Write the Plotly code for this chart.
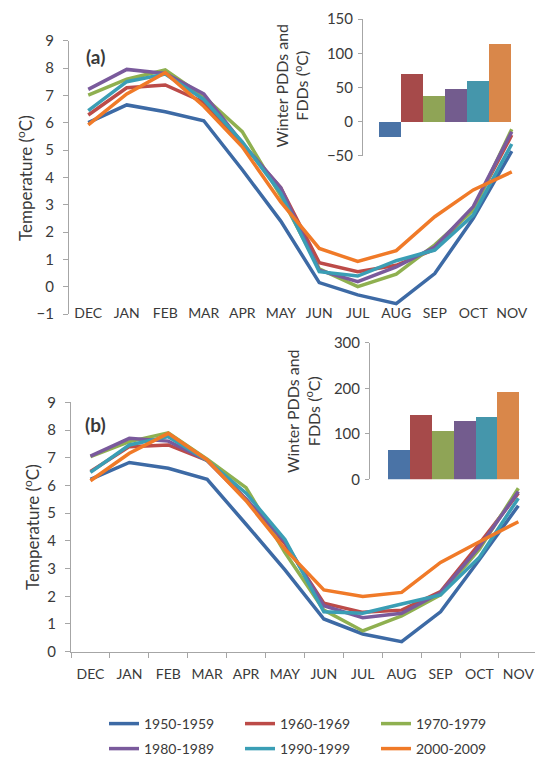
import plotly.graph_objects as go

months = ["DEC", "JAN", "FEB", "MAR", "APR", "MAY", "JUN", "JUL", "AUG", "SEP", "OCT", "NOV"]
decades = ["1950-1959", "1960-1969", "1970-1979", "1980-1989", "1990-1999", "2000-2009"]

# Panel (a) monthly temperatures (ºC)
a_1950 = [6.00, 6.65, 6.40, 6.07, 4.28, 2.40, 0.15, -0.30, -0.62, 0.48, 2.50, 4.96]
a_1960 = [6.28, 7.28, 7.38, 6.75, 5.22, 3.62, 0.88, 0.55, 0.78, 1.37, 2.87, 5.55]
a_1970 = [7.01, 7.59, 7.93, 6.95, 5.67, 3.32, 0.65, 0.00, 0.46, 1.53, 2.80, 5.76]
a_1980 = [7.22, 7.95, 7.80, 7.05, 5.25, 3.62, 0.60, 0.18, 0.72, 1.45, 2.93, 5.67]
a_1990 = [6.44, 7.50, 7.78, 6.85, 5.30, 3.42, 0.55, 0.39, 0.95, 1.34, 2.62, 5.22]
a_2000 = [5.92, 7.05, 7.83, 6.60, 5.12, 3.10, 1.40, 0.92, 1.32, 2.56, 3.54, 4.20]

# Panel (b) monthly temperatures (ºC)
b_1950 = [6.22, 6.83, 6.62, 6.22, 4.60, 2.95, 1.18, 0.64, 0.36, 1.44, 3.33, 5.27]
b_1960 = [6.50, 7.40, 7.46, 6.90, 5.50, 3.90, 1.75, 1.42, 1.50, 2.17, 3.90, 5.72]
b_1970 = [7.04, 7.58, 7.90, 6.95, 5.92, 3.58, 1.50, 0.75, 1.29, 2.05, 3.70, 5.90]
b_1980 = [7.06, 7.70, 7.60, 6.90, 5.50, 3.97, 1.66, 1.23, 1.39, 2.13, 3.79, 5.78]
b_1990 = [6.47, 7.46, 7.76, 6.90, 5.72, 4.05, 1.44, 1.39, 1.72, 2.05, 3.41, 5.54]
b_2000 = [6.17, 7.16, 7.88, 6.92, 5.45, 3.70, 2.23, 1.99, 2.14, 3.22, 3.97, 4.69]

# Insets: winter PDDs and FDDs (ºC)
pdd_a = [-22, 69, 38, 47, 60, 114]
pdd_b = [64, 141, 106, 128, 138, 192]

temp_ticks = list(range(-1, 10))
pdd_ticks_a = [-50, 0, 50, 100, 150]
pdd_ticks_b = [0, 100, 200, 300]

line_colors = ["#3D6AA5", "#BC4B48", "#8FB050", "#7A5A9C", "#3A9EB5", "#F07A28"]
bar_colors = ["#4A73A6", "#A64A4A", "#8FA456", "#735C8E", "#4596AB", "#D9874A"]

W, H = 535, 765
FONT = "Lato"
TXT = "#3a3a3a"
AX = "#a6a6a6"


def fx(p):
    return p / W


def fy(p):
    return 1 - p / H


series_a = [a_1950, a_1960, a_1970, a_1980, a_1990, a_2000]
series_b = [b_1950, b_1960, b_1970, b_1980, b_1990, b_2000]

fig = go.Figure()

for i, (name, ys) in enumerate(zip(decades, series_a)):
    fig.add_trace(go.Scatter(
        x=months, y=ys, mode="lines", name=name,
        line=dict(color=line_colors[i], width=3.5),
        xaxis="x", yaxis="y",
        showlegend=True, legend="legend" if i < 3 else "legend2",
    ))

for i, (name, ys) in enumerate(zip(decades, series_b)):
    fig.add_trace(go.Scatter(
        x=months, y=ys, mode="lines", name=name,
        line=dict(color=line_colors[i], width=3.5),
        xaxis="x3", yaxis="y3", showlegend=False,
    ))

fig.add_trace(go.Bar(x=decades, y=pdd_a, marker=dict(color=bar_colors, line=dict(width=0)),
                     xaxis="x2", yaxis="y2", showlegend=False))
fig.add_trace(go.Bar(x=decades, y=pdd_b, marker=dict(color=bar_colors, line=dict(width=0)),
                     xaxis="x4", yaxis="y4", showlegend=False))

tickfont = dict(family=FONT, size=15, color=TXT)
catfont = dict(family=FONT, size=14, color=TXT)
common = dict(automargin=False, showgrid=False, zeroline=False)

fig.update_layout(
    template="none",
    width=W, height=H,
    margin=dict(l=0, r=0, t=0, b=0, pad=0),
    paper_bgcolor="white", plot_bgcolor="rgba(0,0,0,0)",
    bargap=0,
    font=dict(family=FONT, color=TXT),
    # panel (a)
    xaxis=dict(domain=[fx(69), fx(531)], range=[-0.5, 11.5], type="category",
               anchor="free", position=fy(303), showline=False, ticks="",
               tickangle=0, tickfont=catfont, **common),
    xaxis5=dict(domain=[fx(69), fx(531)], range=[-0.5, 11.5], type="category",
                categoryarray=months, overlaying="x", anchor="free", position=fy(286.7),
                showline=True, linecolor=AX, linewidth=1, ticks="outside", tickson="boundaries",
                ticklen=5, tickcolor=AX, showticklabels=False, **common),
    yaxis=dict(domain=[fy(314), fy(40.7)], range=[-1, 9], anchor="x",
               tickvals=temp_ticks, showline=True, linecolor=AX, ticks="outside",
               ticklen=5, tickcolor=AX, tickfont=tickfont, ticklabelstandoff=6, **common),
    # inset (a)
    xaxis2=dict(domain=[fx(363), fx(527)], range=[-1.245, 6.245], visible=False, anchor="y2", **common),
    yaxis2=dict(domain=[fy(155.9), fy(19.1)], range=[-50, 150], anchor="x2",
                tickvals=pdd_ticks_a, showline=True, linecolor=AX, ticks="outside",
                ticklen=4, tickcolor=AX, tickfont=tickfont, ticklabelstandoff=2, **common),
    # panel (b)
    xaxis3=dict(domain=[fx(71), 1.0], range=[-0.5, -0.5 + (535 - 71) / 38.9], type="category",
                anchor="y3", showline=True, linecolor=AX, ticks="outside", tickson="boundaries",
                ticklen=5, tickcolor=AX, tickangle=0, tickfont=catfont,
                ticklabelstandoff=9, **common),
    yaxis3=dict(domain=[fy(651.7), fy(402.3)], range=[0, 9], anchor="x3",
                tickvals=temp_ticks[1:], showline=True, linecolor=AX, ticks="outside",
                ticklen=5, tickcolor=AX, tickfont=tickfont, ticklabelstandoff=6, **common),
    # inset (b)
    xaxis4=dict(domain=[fx(370), 1.0], range=[-1.34, 6.23], visible=False, anchor="y4", **common),
    yaxis4=dict(domain=[fy(479.3), fy(342.8)], range=[0, 300], anchor="x4",
                tickvals=pdd_ticks_b, showline=True, linecolor=AX, ticks="outside",
                ticklen=4, tickcolor=AX, tickfont=tickfont, ticklabelstandoff=2, **common),
    legend=dict(orientation="h", x=fx(104), xanchor="left", y=fy(724), yanchor="middle",
                entrywidth=91, entrywidthmode="pixels", font=dict(family=FONT, size=14, color=TXT),
                bgcolor="rgba(0,0,0,0)", borderwidth=0),
    legend2=dict(orientation="h", x=fx(104), xanchor="left", y=0, yanchor="bottom",
                 entrywidth=91, entrywidthmode="pixels", font=dict(family=FONT, size=14, color=TXT),
                 bgcolor="rgba(0,0,0,0)", borderwidth=0),
)

ann = [
    dict(text="<b>(a)</b>", x=fx(95), y=fy(57), font=dict(size=19)),
    dict(text="<b>(b)</b>", x=fx(96), y=fy(424), font=dict(size=19)),
    dict(text="Temperature (<sup>o</sup>C)", x=fx(24), y=fy(178), textangle=-90, font=dict(size=17)),
    dict(text="Temperature (<sup>o</sup>C)", x=fx(31), y=fy(527), textangle=-90, font=dict(size=17)),
    dict(text="Winter PDDs and<br>FDDs (<sup>o</sup>C)", x=fx(291.5), y=fy(86), textangle=-90, font=dict(size=16)),
    dict(text="Winter PDDs and<br>FDDs (<sup>o</sup>C)", x=fx(303), y=fy(411), textangle=-90, font=dict(size=16)),
]
for a in ann:
    a.update(xref="paper", yref="paper", showarrow=False, xanchor="center", yanchor="middle")
    a["font"].update(family=FONT, color=TXT)
    fig.add_annotation(**a)

fig.write_html("out.html", config={"displayModeBar": False},
               post_script="document.body.style.margin='0';document.body.style.overflow='hidden';")
